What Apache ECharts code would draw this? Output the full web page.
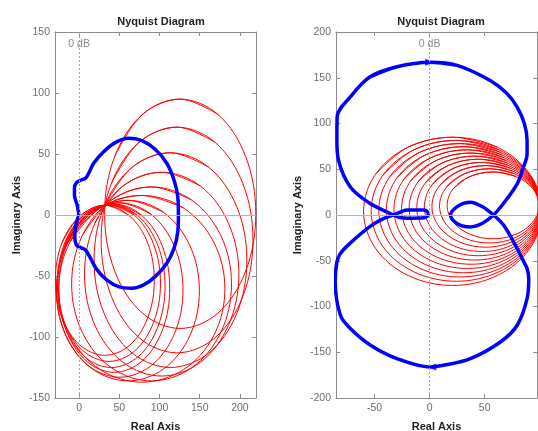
<!DOCTYPE html>
<html><head><meta charset="utf-8">
<script src="https://cdn.jsdelivr.net/npm/echarts@6/dist/echarts.min.js"></script>
<style>html,body{margin:0;padding:0;background:#fff}#c{width:538px;height:431px}</style>
</head><body><div id="c"></div><script>
// ---------- tick labels ----------
const leftXTicks = [0, 50, 100, 150, 200];
const rightXTicks = [-50, 0, 50];
const leftYRange = [-150, 150];
const rightYRange = [-200, 200];
const leftXRange = [-30, 220];
const rightXRange = [-85, 97.5];

// ---------- left diagram: blue response ----------
const leftBlue = [[-0.5,0],[-2.5,8.2],[-5.8,16.4],[-5.8,21.9],[-3.3,26.5],[2.5,28.7],[7.8,30],[11.9,34.2],[18.1,42.4],[30.5,51.9],[45,59.3],[61.5,62.9],[78,61],[94.6,53.9],[109,42.4],[118,28.7],[122.7,15],[123.5,0],[122.7,-13.7],[118,-27.3],[109,-39.6],[94.6,-50.5],[80,-57.4],[65.7,-60],[49,-58.7],[34.7,-53.3],[22.3,-45],[13.1,-34.2],[7.8,-28.7],[2.5,-26.8],[-3.3,-24.6],[-5.4,-17.8],[-4.6,-9.6],[-1.7,-2.7],[-0.5,0]];

// ---------- left diagram: red loops ----------
const redL01 = [[125.7,95],[172.7,82.4],[207.1,48],[219.7,1],[207.1,-46],[172.7,-80.4],[125.7,-93],[78.7,-80.4],[44.3,-46],[31.7,1],[44.3,48],[78.7,82.4],[125.7,95]];
const redL02 = [[121.8,72],[169,59.6],[203.6,25.8],[216.2,-20.5],[203.6,-66.8],[169,-100.6],[121.8,-113],[74.6,-100.6],[40.1,-66.8],[27.4,-20.5],[40.1,25.8],[74.6,59.6],[121.8,72]];
const redL03 = [[113.6,51],[161.1,39.2],[195.9,7],[208.6,-37],[195.9,-81],[161.1,-113.2],[113.6,-125],[66.1,-113.2],[31.3,-81],[18.6,-37],[31.3,7],[66.1,39.2],[113.6,51]];
const redL04 = [[102.7,35],[150.7,23.8],[185.8,-6.8],[198.7,-48.5],[185.8,-90.3],[150.7,-120.8],[102.7,-132],[54.7,-120.8],[19.6,-90.3],[6.7,-48.5],[19.6,-6.8],[54.7,23.8],[102.7,35]];
const redL05 = [[90.1,23],[139.8,12.3],[176.2,-16.8],[189.5,-56.5],[176.2,-96.3],[139.8,-125.3],[90.1,-136],[40.4,-125.3],[4,-96.3],[-9.3,-56.5],[4,-16.8],[40.4,12.3],[90.1,23]];
const redL06 = [[78,16],[129.7,5.8],[167.5,-22.3],[181.3,-60.5],[167.5,-98.8],[129.7,-126.8],[78,-137],[26.4,-126.8],[-11.5,-98.8],[-25.3,-60.5],[-11.5,-22.3],[26.4,5.8],[78,16]];
const redL07 = [[60.8,12],[105.2,2.1],[137.7,-25],[149.6,-62],[137.7,-99],[105.2,-126.1],[60.8,-136],[16.4,-126.1],[-16.1,-99],[-28,-62],[-16.1,-25],[16.4,2.1],[60.8,12]];
const redL08 = [[50.5,10],[89.8,0.4],[118.6,-25.8],[129.2,-61.5],[118.6,-97.3],[89.8,-123.4],[50.5,-133],[11.2,-123.4],[-17.6,-97.3],[-28.2,-61.5],[-17.6,-25.8],[11.2,0.4],[50.5,10]];
const redL09 = [[43.7,9],[78.2,-0.5],[103.5,-25.5],[112.7,-60],[103.5,-94.5],[78.2,-119.8],[43.7,-129],[9.2,-119.8],[-16.1,-94.5],[-25.3,-60],[-16.1,-25.5],[9.2,-0.5],[43.7,9]];
const redL10 = [[40.1,8.5],[73.5,-0.9],[97.9,-24.9],[106.9,-58.3],[97.9,-91.7],[73.5,-116.1],[40.1,-125],[6.7,-116.1],[-17.7,-91.7],[-26.7,-58.3],[-17.7,-24.9],[6.7,-0.9],[40.1,8.5]];
const redL11 = [[37.1,8.2],[69.2,-0.4],[92.6,-23.9],[101.2,-55.9],[92.6,-88],[69.2,-111.4],[37.1,-120],[5.1,-111.4],[-18.4,-88],[-27,-55.9],[-18.4,-23.9],[5.1,-0.4],[37.1,8.2]];
const redL12 = [[32,8],[62.8,-0.8],[85.3,-22.8],[93.5,-53.5],[85.3,-84.3],[62.8,-106.8],[32,-115],[1.3,-106.8],[-21.3,-84.3],[-29.5,-53.5],[-21.3,-22.8],[1.3,-0.8],[32,8]];
const leftRedLoops = [redL01, redL02, redL03, redL04, redL05, redL06, redL07, redL08, redL09, redL10, redL11, redL12];

// ---------- right diagram: blue response ----------
const rightBlue = [[0,167],[25,163.6],[55,147],[70,133],[79.5,118],[86,100],[88.5,81.6],[88.5,67],[84.5,50],[79.5,34],[67,12.5],[58,0],[48,-9],[37,-13],[26,-10],[19,0],[26,10],[37,14],[48,9],[58,0],[67.3,-11.3],[79.5,-36.7],[85,-50],[88.5,-58.6],[90,-69.5],[88.5,-91.4],[79.5,-120.5],[64.3,-138.8],[37,-157],[12.7,-164.3],[0,-166],[-29.6,-157],[-54,-142],[-72,-124],[-81,-109.6],[-85.7,-73.2],[-84.2,-51.4],[-81,-42],[-72,-30.6],[-54,-12.5],[-42,-4],[-33,0],[-26,3.5],[-20,5.5],[-5,5.5],[-1,1],[-5,-3],[-20,-3.5],[-26,-3],[-33,0],[-38.7,3.3],[-54,12.5],[-72,30.6],[-82.7,59.8],[-84.2,81.6],[-84,107],[-72,129],[-54,151],[-29.6,162],[0,167]];
const rightArrows = [[0,167,-90],[2,-166,90]];

// ---------- right diagram: red loops ----------
const redR01 = [[21,85],[61.5,74.1],[91.1,44.5],[102,4],[91.1,-36.5],[61.5,-66.1],[21,-77],[-19.5,-66.1],[-49.1,-36.5],[-60,4],[-49.1,44.5],[-19.5,74.1],[21,85]];
const redR02 = [[24.3,81.5],[63,71.2],[91.3,43],[101.7,4.6],[91.3,-34],[63,-62],[24.3,-72.4],[-14.4,-62],[-42.7,-34],[-53.1,4.6],[-42.7,43],[-14.4,71.2],[24.3,81.5]];
const redR03 = [[27.7,78],[64.6,68.3],[91.6,41.6],[101.5,5.2],[91.6,-31.3],[64.6,-58],[27.7,-67.7],[-9.3,-58],[-36.3,-31.3],[-46.2,5.2],[-36.3,41.6],[-9.3,68.3],[27.7,78]];
const redR04 = [[31,74.6],[66.1,65.4],[91.8,40.2],[101.2,5.8],[91.8,-28.7],[66.1,-53.9],[31,-63.1],[-4.2,-53.9],[-29.9,-28.7],[-39.3,5.8],[-29.9,40.2],[-4.2,65.4],[31,74.6]];
const redR05 = [[34.3,71.2],[67.7,62.5],[92.1,38.8],[101,6.4],[92.1,-26],[67.7,-49.7],[34.3,-58.4],[1,-49.7],[-23.5,-26],[-32.4,6.4],[-23.5,38.8],[1,62.5],[34.3,71.2]];
const redR06 = [[37.6,67.7],[69.2,59.6],[92.3,37.4],[100.7,7],[92.3,-23.5],[69.2,-45.7],[37.6,-53.8],[6.1,-45.7],[-17.1,-23.5],[-25.5,7],[-17.1,37.4],[6.1,59.6],[37.6,67.7]];
const redR07 = [[41,64.3],[70.8,56.7],[92.6,36],[100.5,7.6],[92.6,-20.9],[70.8,-41.6],[41,-49.2],[11.2,-41.6],[-10.7,-20.9],[-18.6,7.6],[-10.7,36],[11.2,56.7],[41,64.3]];
const redR08 = [[44.3,60.9],[72.3,53.8],[92.7,34.6],[100.2,8.2],[92.7,-18.2],[72.3,-37.4],[44.3,-44.5],[16.3,-37.4],[-4.2,-18.2],[-11.7,8.2],[-4.2,34.6],[16.3,53.8],[44.3,60.9]];
const redR09 = [[47.6,57.4],[73.8,50.9],[93,33.1],[100,8.8],[93,-15.6],[73.8,-33.4],[47.6,-39.9],[21.4,-33.4],[2.2,-15.6],[-4.8,8.8],[2.2,33.1],[21.4,50.9],[47.6,57.4]];
const redR10 = [[50.9,54],[75.3,48],[93.2,31.7],[99.7,9.4],[93.2,-12.9],[75.3,-29.2],[50.9,-35.2],[26.5,-29.2],[8.7,-12.9],[2.1,9.4],[8.7,31.7],[26.5,48],[50.9,54]];
const redR11 = [[54.3,50.5],[76.9,45.1],[93.5,30.3],[99.5,10],[93.5,-10.4],[76.9,-25.2],[54.3,-30.6],[31.7,-25.2],[15.1,-10.4],[9,10],[15.1,30.3],[31.7,45.1],[54.3,50.5]];
const redR12 = [[57.6,47],[78.4,42.1],[93.6,28.8],[99.2,10.5],[93.6,-7.8],[78.4,-21.1],[57.6,-26],[36.8,-21.1],[21.5,-7.8],[15.9,10.5],[21.5,28.8],[36.8,42.1],[57.6,47]];
const rightRedLoops = [redR01, redR02, redR03, redR04, redR05, redR06, redR07, redR08, redR09, redR10, redR11, redR12];

const zeroDbY = [140, 187];

// ---------- styling ----------
const FONT = 'Liberation Sans, Arial, Helvetica, sans-serif';
const AXC = '#8c8c8c';
const LBC = '#6e6e6e';

// a closed loop (first point == last) is drawn with two extra points
// on each end so the spline has no corner where it closes
function closedPath(d) {
  const core = d.slice(0, d.length - 1);
  const n = core.length;
  return [core[n - 2], core[n - 1]].concat(core, [core[0], core[1]]);
}

function xAx(grid, range, ticks, pos, withName) {
  return {
    type: 'value', gridIndex: grid, min: range[0], max: range[1], position: pos,
    axisLine: { show: true, onZero: false, lineStyle: { color: AXC, width: 1 } },
    axisTick: { show: true, inside: true, length: 4, customValues: ticks, lineStyle: { color: AXC } },
    axisLabel: { show: pos === 'bottom', customValues: ticks, color: LBC, fontSize: 10.5, fontFamily: FONT, margin: 5 },
    splitLine: { show: false },
    name: withName ? 'Real Axis' : '', nameLocation: 'middle', nameGap: 23,
    nameTextStyle: { fontSize: 11, fontWeight: 'bold', color: '#222', fontFamily: FONT }
  };
}
function yAx(grid, range, pos, withName) {
  return {
    type: 'value', gridIndex: grid, min: range[0], max: range[1], interval: 50, position: pos,
    axisLine: { show: true, onZero: false, lineStyle: { color: AXC, width: 1 } },
    axisTick: { show: true, inside: true, length: 4, lineStyle: { color: AXC } },
    axisLabel: { show: pos === 'left', color: LBC, fontSize: 10.5, fontFamily: FONT, margin: 5 },
    splitLine: { show: false },
    name: withName ? 'Imaginary Axis' : '', nameLocation: 'middle', nameGap: 33, nameRotate: 90,
    nameTextStyle: { fontSize: 11, fontWeight: 'bold', color: '#222', fontFamily: FONT }
  };
}
function loop(data, xi, color, width, z) {
  return { type: 'line', xAxisIndex: xi, yAxisIndex: xi, data: closedPath(data), smooth: 0.35,
    symbol: 'none', showSymbol: false, clip: true, z: z, silent: true,
    lineStyle: { color: color, width: width } };
}
function refLines(xi) {
  return { type: 'line', xAxisIndex: xi, yAxisIndex: xi, data: [], z: 1, silent: true,
    markLine: { silent: true, symbol: ['none', 'none'], animation: false, label: { show: false },
      data: [
        { xAxis: 0, lineStyle: { color: '#a8a8a8', width: 1, type: [2, 2] } },
        { yAxis: 0, lineStyle: { color: '#b4b4b4', width: 1, type: 'solid' } }
      ] } };
}
function dbLabel(xi, y) {
  return { type: 'scatter', xAxisIndex: xi, yAxisIndex: xi, data: [[0, y]], symbolSize: 1, z: 5, silent: true,
    itemStyle: { color: 'rgba(0,0,0,0)' },
    label: { show: true, position: 'inside', formatter: '0 dB', color: '#6e6e6e', fontSize: 10.5, fontFamily: FONT } };
}

const series = [];
series.push(refLines(0)); series.push(refLines(2));
leftRedLoops.forEach(d => series.push(loop(d, 0, '#ff0000', 1, 2)));
rightRedLoops.forEach(d => series.push(loop(d, 2, '#ff0000', 1, 2)));
series.push(loop(leftBlue, 0, '#0000ff', 3.5, 3));
series.push(loop(rightBlue, 2, '#0000ff', 3.5, 3));
series.push({ type: 'scatter', xAxisIndex: 2, yAxisIndex: 2, silent: true, z: 4,
  data: rightArrows.map(a => ({ value: [a[0], a[1]], symbolRotate: a[2] })),
  symbol: 'triangle', symbolSize: [7, 9], itemStyle: { color: '#0000ff' } });
series.push(dbLabel(0, zeroDbY[0]));
series.push(dbLabel(2, zeroDbY[1]));

const chart = echarts.init(document.getElementById('c'), null, { renderer: 'canvas' });
chart.setOption({
  animation: false,
  backgroundColor: '#ffffff',
  title: [
    { text: 'Nyquist Diagram', left: 156, top: 11, textAlign: 'center',
      textStyle: { fontSize: 11, fontWeight: 'bold', color: '#222', fontFamily: FONT } },
    { text: 'Nyquist Diagram', left: 436, top: 11, textAlign: 'center',
      textStyle: { fontSize: 11, fontWeight: 'bold', color: '#222', fontFamily: FONT } }
  ],
  grid: [
    { left: 55, top: 32, width: 201, height: 366, outerBoundsMode: 'none', containLabel: false },
    { left: 336, top: 32, width: 201, height: 366, outerBoundsMode: 'none', containLabel: false }
  ],
  xAxis: [
    xAx(0, leftXRange, leftXTicks, 'bottom', true),
    xAx(0, leftXRange, leftXTicks, 'top', false),
    xAx(1, rightXRange, rightXTicks, 'bottom', true),
    xAx(1, rightXRange, rightXTicks, 'top', false)
  ],
  yAxis: [
    yAx(0, leftYRange, 'left', true),
    yAx(0, leftYRange, 'right', false),
    yAx(1, rightYRange, 'left', true),
    yAx(1, rightYRange, 'right', false)
  ],
  series: series
});
</script></body></html>
